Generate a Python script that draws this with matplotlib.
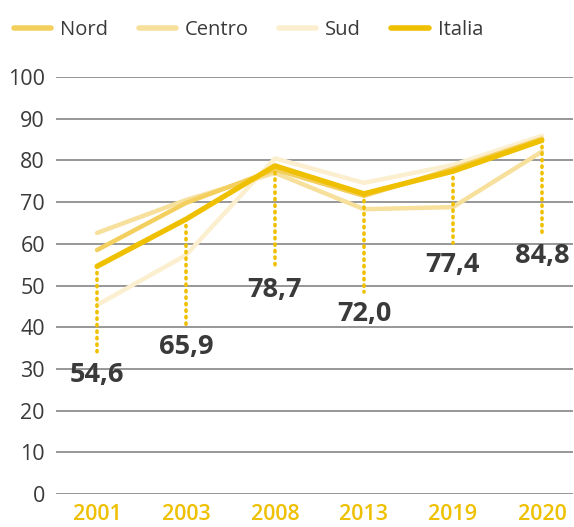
import matplotlib.pyplot as plt
from matplotlib.lines import Line2D

plt.rcParams['font.family'] = ['Open Sans', 'DejaVu Sans']

years = ['2001', '2003', '2008', '2013', '2019', '2020']
nord = [58.5, 69.8, 77.8, 71.5, 78.0, 85.2]
centro = [62.6, 70.5, 77.0, 68.3, 68.8, 82.1]
sud = [45.3, 57.3, 80.5, 74.6, 78.9, 85.9]
italia = [54.6, 65.9, 78.7, 72.0, 77.4, 84.8]
italia_labels = ['54,6', '65,9', '78,7', '72,0', '77,4', '84,8']

# length of dotted drop lines below the Italia points (layout)
drop = [20.8, 25.4, 24.5, 23.5, 17.2, 22.4]

c_nord = '#f3cf5e'
c_centro = '#f7e09c'
c_sud = '#fcefcf'
c_italia = '#efc000'
c_text = '#3a3a3a'

fig = plt.figure(figsize=(5.74, 5.27), dpi=100)
ax = fig.add_axes([0.0976, 0.0626, 0.9004, 0.7913])

x = list(range(len(years)))

for v in range(0, 101, 10):
    ax.axhline(v, color='#7a7a7a', lw=1.1, zorder=0)

ax.plot(x, sud, color=c_sud, lw=3.2, solid_capstyle='round', zorder=2)
ax.plot(x, centro, color=c_centro, lw=3.2, solid_capstyle='round', zorder=3)
ax.plot(x, nord, color=c_nord, lw=3.2, solid_capstyle='round', zorder=4)
ax.plot(x, italia, color=c_italia, lw=3.8, solid_capstyle='round', zorder=5)

for i, v in enumerate(italia):
    ax.plot([i, i], [v, v - drop[i]], color=c_italia, lw=2.6,
            linestyle=(0, (0.35, 1.45)), dash_capstyle='round', zorder=6)
    ax.text(i, v - drop[i] - 2.2, italia_labels[i], ha='center', va='top',
            fontsize=19.5, fontweight='bold', color=c_text, zorder=7)

ax.set_xlim(-0.461, 5.348)
ax.set_ylim(0, 100)
ax.set_xticks(x)
ax.set_xticklabels(years, color=c_italia, fontsize=15.5, fontweight='semibold')
ax.set_yticks(range(0, 101, 10))
ax.tick_params(axis='y', labelsize=15.5, labelcolor=c_text, length=0, pad=8)
ax.tick_params(axis='x', length=0, pad=7)
for s in ax.spines.values():
    s.set_visible(False)

handles = [Line2D([], [], color=c, lw=4, solid_capstyle='round')
           for c in [c_nord, c_centro, c_sud, c_italia]]
fig.legend(handles, ['Nord', 'Centro', 'Sud', 'Italia'], loc='upper left',
           bbox_to_anchor=(0.0244, 0.962), ncol=4, frameon=False, fontsize=14.5,
           handlelength=1.85, handletextpad=0.45, columnspacing=1.5,
           borderaxespad=0, borderpad=0, labelcolor=c_text)

fig.savefig('out.png', dpi=100)
